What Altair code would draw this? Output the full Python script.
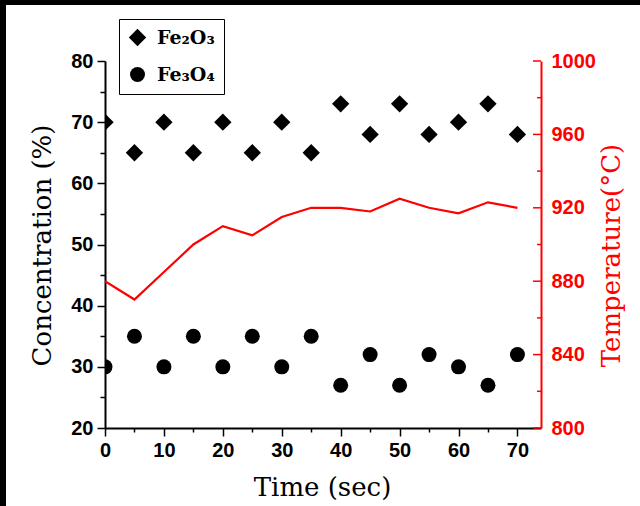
import altair as alt
import pandas as pd

# Sampling times (s)
time_s = [0, 5, 10, 15, 20, 25, 30, 35, 40, 45, 50, 55, 60, 65, 70]
# Phase concentrations (%)
fe2o3 = [70, 65, 70, 65, 70, 65, 70, 65, 73, 68, 73, 68, 70, 73, 68]
fe3o4 = [30, 35, 30, 35, 30, 35, 30, 35, 27, 32, 27, 32, 30, 27, 32]
# Furnace temperature (°C)
temperature = [880, 870, 885, 900, 910, 905, 915, 920, 920, 918, 925, 920, 917, 923, 920]

phase_names = ["Fe₂O₃", "Fe₃O₄"]
temp_major = [800, 840, 880, 920, 960, 1000]
temp_minor = [820, 860, 900, 940, 980]

W, H = 436, 367
LABEL_FONT = "Liberation Sans"
TITLE_FONT = "DejaVu Serif"

conc = pd.DataFrame({
    "time": time_s * 2,
    "conc": fe2o3 + fe3o4,
    "phase": [phase_names[0]] * len(time_s) + [phase_names[1]] * len(time_s),
})
temp = pd.DataFrame({"time": time_s, "temp": temperature})

x_scale = alt.Scale(domain=[0, 74], nice=False, zero=False)
temp_scale = alt.Scale(domain=[800, 1000], nice=False, zero=False)


def time_axis():
    return alt.Axis(
        orient="bottom",
        values=list(range(0, 71, 5)),
        labelExpr="datum.value % 10 === 0 ? datum.label : ''",
        tickSize={"condition": {"test": "datum.value % 10 === 0", "value": 8}, "value": 4},
        tickWidth=1.5, tickColor="black",
        domainColor="black", domainWidth=2,
        labelFont=LABEL_FONT, labelFontWeight="bold", labelFontSize=20,
        labelColor="black", labelPadding=4, labelFlush=False,
        title="Time (sec)", titleFont=TITLE_FONT, titleFontWeight="normal",
        titleFontSize=26, titleColor="black",
        titleX=217, titleY=59, titleAlign="center", titleBaseline="middle",
    )


y_axis = alt.Axis(
    orient="left",
    values=list(range(20, 81, 5)),
    labelExpr="datum.value % 10 === 0 ? datum.label : ''",
    tickSize={"condition": {"test": "datum.value % 10 === 0", "value": 8}, "value": 5},
    tickWidth=1.5, tickColor="black",
    domainColor="black", domainWidth=2,
    labelFont=LABEL_FONT, labelFontWeight="bold", labelFontSize=20,
    labelColor="black", labelPadding=4, labelFlush=False,
    title="Concentration (%)", titleFont=TITLE_FONT, titleFontWeight="normal",
    titleFontSize=26, titleColor="black",
    titleX=-63, titleY=184, titleAngle=270,
    titleAlign="center", titleBaseline="middle",
)

temp_axis = alt.Axis(
    orient="right",
    values=temp_major,
    format="d",
    ticks=False,
    domainColor="red", domainWidth=2,
    labelFont=LABEL_FONT, labelFontWeight="bold", labelFontSize=20,
    labelColor="red", labelPadding=10, labelFlush=False,
    title="Temperature(°C)", titleFont=TITLE_FONT, titleFontWeight="normal",
    titleFontSize=26, titleColor="red",
    titleX=70, titleY=194, titleAngle=270,
    titleAlign="center", titleBaseline="middle",
)


def phase_legend():
    return alt.Legend(
        title=None, orient="none", legendX=14, legendY=-42,
        strokeColor="black", padding=9, rowPadding=14,
        symbolFillColor="black", symbolStrokeColor="black",
        labelFont=TITLE_FONT, labelFontWeight="bold", labelFontSize=19,
        labelColor="black", labelOffset=10,
    )


points = alt.Chart(conc).mark_point(
    filled=True, opacity=1, color="black", clip=True
).encode(
    x=alt.X("time:Q", scale=x_scale, axis=time_axis()),
    y=alt.Y("conc:Q", scale=alt.Scale(domain=[20, 80], nice=False, zero=False), axis=y_axis),
    shape=alt.Shape(
        "phase:N",
        scale=alt.Scale(domain=phase_names, range=["diamond", "circle"]),
        legend=phase_legend(),
    ),
    size=alt.Size(
        "phase:N",
        scale=alt.Scale(domain=phase_names, range=[300, 225]),
        legend=phase_legend(),
    ),
)

line = alt.Chart(temp).mark_line(color="red", strokeWidth=2.2, clip=True).encode(
    x=alt.X("time:Q", scale=x_scale, axis=time_axis()),
    y=alt.Y("temp:Q", scale=temp_scale, axis=temp_axis),
)

# Inward-pointing ticks on the temperature axis
major_ticks = alt.Chart(pd.DataFrame({"t": temp_major})).mark_rule(
    color="red", strokeWidth=1.5
).encode(
    y=alt.Y("t:Q", scale=temp_scale, axis=None),
    x=alt.value(W), x2=alt.value(W - 8),
)
minor_ticks = alt.Chart(pd.DataFrame({"t": temp_minor})).mark_rule(
    color="red", strokeWidth=1.5
).encode(
    y=alt.Y("t:Q", scale=temp_scale, axis=None),
    x=alt.value(W), x2=alt.value(W - 4),
)

# Dark frame strips along the top and left edges of the canvas
frame = pd.DataFrame({"k": [0]})
left_strip = alt.Chart(frame).mark_rect(color="black").encode(
    x=alt.value(-105), x2=alt.value(-99), y=alt.value(-61), y2=alt.value(H + 78)
)
top_strip = alt.Chart(frame).mark_rect(color="black").encode(
    x=alt.value(-105), x2=alt.value(W + 99), y=alt.value(-61), y2=alt.value(-56)
)

chart = alt.layer(
    points, line, major_ticks, minor_ticks, left_strip, top_strip
).resolve_scale(
    y="independent"
).properties(
    width=W, height=H,
    autosize="none",
    padding={"left": 105, "top": 61, "right": 99, "bottom": 78},
    background="white",
).configure_view(
    stroke=None
).configure_axis(
    grid=False
)

chart.save("out.html", embed_options={"renderer": "svg", "actions": False})
